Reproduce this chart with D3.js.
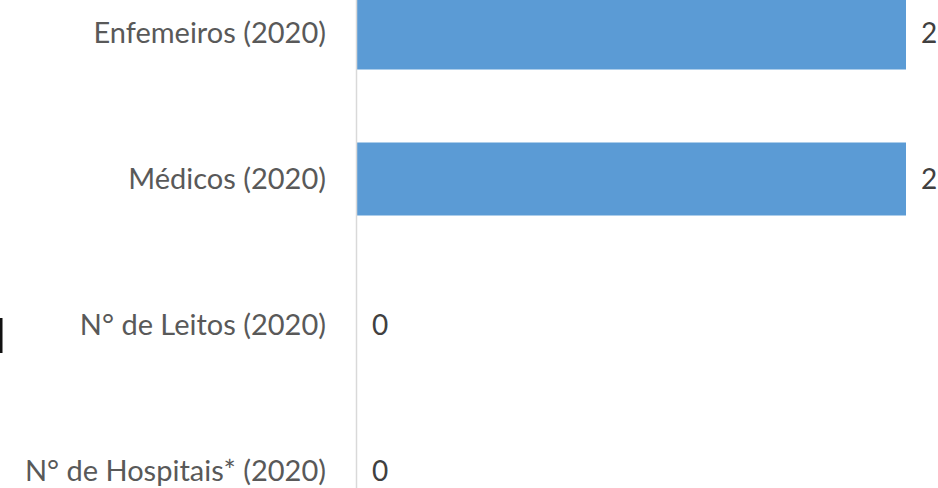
<!DOCTYPE html>
<html>
<head>
<meta charset="utf-8">
<script src="https://cdn.jsdelivr.net/npm/d3@7"></script>
<style>
  html, body { margin: 0; padding: 0; background: #fff; overflow: hidden; }
  #chart { width: 938px; height: 488px; }
</style>
</head>
<body>
<div id="chart"></div>
<script>
const CATEGORIES = ["Enfemeiros (2020)", "Médicos (2020)", "N° de Leitos (2020)", "N° de Hospitais* (2020)"];
const VALUES = [2, 2, 0, 0];

const width = 938, height = 488;
const axisX = 357;

const svg = d3.select("#chart").append("svg")
  .attr("width", width)
  .attr("height", height);

// chart is cropped: bands run past the top and bottom of the window
const y = d3.scaleBand().domain(CATEGORIES).range([-40, 544])
  .paddingInner(0.5).paddingOuter(0.25);
const x = d3.scaleLinear().domain([0, 2]).range([axisX, 906]);

const rows = CATEGORIES.map((c, i) => ({ label: c, value: VALUES[i] }));

// Bars
svg.selectAll(".bar")
  .data(rows)
  .join("rect")
  .attr("class", "bar")
  .attr("x", x(0))
  .attr("y", (d) => y(d.label))
  .attr("width", (d) => x(d.value) - x(0))
  .attr("height", y.bandwidth())
  .attr("fill", "#5B9BD5");

// Vertical category axis line
svg.append("line")
  .attr("x1", axisX - 0.5).attr("x2", axisX - 0.5)
  .attr("y1", 0).attr("y2", height)
  .attr("stroke", "#d9d9d9").attr("stroke-width", 1.5);

// Category labels
svg.selectAll(".cat-label")
  .data(rows)
  .join("text")
  .attr("x", 326)
  .attr("y", (d) => y(d.label) + y.bandwidth() / 2)
  .attr("dy", "0.35em")
  .attr("text-anchor", "end")
  .attr("fill", "#595959")
  .attr("font-family", "Lato, 'Open Sans', sans-serif")
  .attr("font-size", "29px")
  .text((d) => d.label);

// Value labels
svg.selectAll(".val-label")
  .data(rows)
  .join("text")
  .attr("x", (d) => x(d.value) + 15)
  .attr("y", (d) => y(d.label) + y.bandwidth() / 2)
  .attr("dy", "0.35em")
  .attr("fill", "#404040")
  .attr("font-family", "Lato, 'Open Sans', sans-serif")
  .attr("font-size", "28px")
  .text((d) => d.value);

// Sliver of a cropped element at the far left edge
svg.append("rect")
  .attr("x", 0).attr("y", 318)
  .attr("width", 2.5).attr("height", 35)
  .attr("fill", "#111");
</script>
</body>
</html>
